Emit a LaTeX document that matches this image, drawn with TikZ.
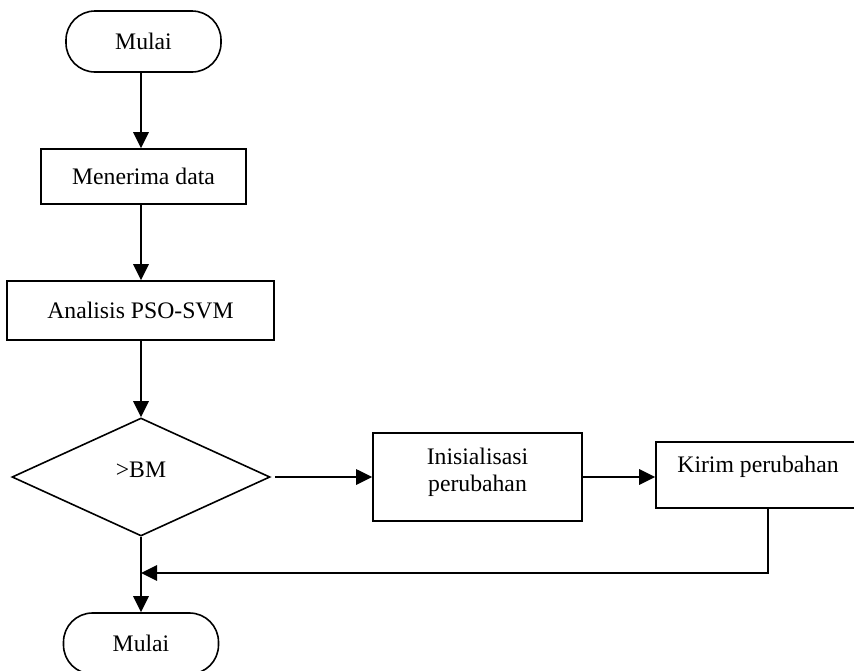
\documentclass[tikz,border=0pt]{standalone}
\usepackage{fontspec}
\setmainfont{Liberation Serif}
\usetikzlibrary{shapes.geometric,arrows.meta}
\begin{document}
\begin{tikzpicture}[x=1pt,y=-1pt,
  every node/.style={font=\fontsize{23.7}{27}\selectfont, inner sep=0pt},
  terminal/.style={draw, line width=1.6pt, rounded corners=29pt, minimum width=155pt, minimum height=61pt},
  procbox/.style={draw, line width=1.6pt, rectangle},
  decisionbox/.style={draw, line width=1.6pt, diamond, aspect=2.19, minimum width=258pt, minimum height=118pt},
  flow/.style={line width=2.8pt, -{Triangle[length=16pt,width=15pt]}}]
\useasboundingbox (0,0) rectangle (854,670);
\clip (0,0) rectangle (854,670);

% main column
\node[terminal] (start) at (143.5,41.5) {Mulai};
\node[procbox, minimum width=205pt, minimum height=55pt] (recv) at (143.5,176.5) {Menerima data};
\node[procbox, minimum width=267pt, minimum height=59pt] (anal) at (140.5,310.5) {Analisis PSO-SVM};
\node[decisionbox, text depth=14pt] (dec) at (141,477) {>BM};
\node[terminal] (finish) at (141,643.5) {Mulai};

% branch on the right
\node[procbox, minimum width=209pt, minimum height=88pt, align=center, text depth=14pt] (init) at (477.5,477) {Inisialisasi\\perubahan};
\node[procbox, minimum width=204pt, minimum height=66pt, text depth=21pt] (kirim) at (758,475) {Kirim perubahan};

% join point on the trunk below the decision
\coordinate (join) at (141,573);

% connectors
\draw[flow] (start.south -| 141,0) -- (recv.north -| 141,0);
\draw[flow] (recv.south -| 141,0) -- (anal.north -| 141,0);
\draw[flow] (anal.south -| 141,0) -- (dec.north);
\draw[flow, shorten <=4pt] (dec.east) -- (init.west);
\draw[flow] (init.east) -- (init.east -| kirim.west);
\draw[flow] ([xshift=10pt]kirim.south) |- (join);
\draw[flow] (dec.south) -- (finish.north);
\end{tikzpicture}
\end{document}
